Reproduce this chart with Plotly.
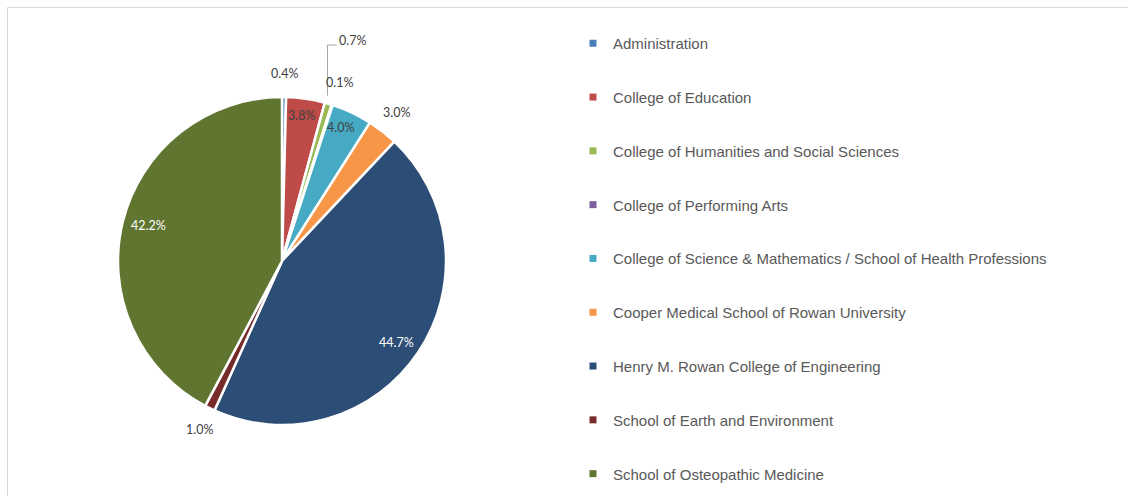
import math
import plotly.graph_objects as go

labels = [
    "Administration",
    "College of Education",
    "College of Humanities and Social Sciences",
    "College of Performing Arts",
    "College of Science & Mathematics / School of Health Professions",
    "Cooper Medical School of Rowan University",
    "Henry M. Rowan College of Engineering",
    "School of Earth and Environment",
    "School of Osteopathic Medicine",
]
values = [0.4, 3.8, 0.7, 0.1, 4.0, 3.0, 44.7, 1.0, 42.2]
colors = ["#4A7EBB", "#BE4B48", "#98B954", "#7D5FA0", "#46AAC5",
          "#F79646", "#2C4D75", "#772C2A", "#5F7530"]
# label placement style per slice: "in", "out", or "leader"
label_mode = ["out", "in", "leader", "out", "in", "out", "in", "out", "in"]
label_color = ["#404040", "#404040", "#404040", "#404040", "#404040",
               "#404040", "#FFFFFF", "#404040", "#FFFFFF"]

W, H = 1128, 496
cx, cy, r = 282, 261, 164
rx, ry = 158, 169  # label geometry (reference ellipse)

fig = go.Figure()
fig.add_trace(go.Pie(
    labels=labels, values=values, sort=False, direction="clockwise", rotation=0,
    marker=dict(colors=colors, line=dict(color="white", width=2.5)),
    textinfo="none", showlegend=False, hoverinfo="label+value",
    domain=dict(x=[(cx - r) / W, (cx + r) / W], y=[1 - (cy + r) / H, 1 - (cy - r) / H]),
))

for lab, col in zip(labels, colors):
    fig.add_trace(go.Scatter(
        x=[None], y=[None], mode="markers", name=lab, legendgroup=lab,
        marker=dict(symbol="square", size=7, color=col),
    ))

total = sum(values)
font_lbl = "Lato, Carlito, Calibri, sans-serif"
annotations = []
shapes = [dict(type="rect", xref="paper", yref="paper",
               x0=7.5 / W, x1=1.02, y0=-0.02, y1=1 - 7.5 / H,
               line=dict(color="#D9D9D9", width=1))]
cum = 0.0
for v, mode, tc in zip(values, label_mode, label_color):
    mid = (cum + v / 2) / total * 2 * math.pi
    cum += v
    s, c = math.sin(mid), math.cos(mid)
    txt = f"{v:.1f}%"
    if mode == "in":
        k = 0.87
        px, py = cx + k * rx * s, cy - k * ry * c
        annotations.append(dict(x=px / W, y=1 - py / H, xref="paper", yref="paper",
                                text=txt, showarrow=False, xanchor="center", yanchor="middle",
                                font=dict(family=font_lbl, size=12.5, color=tc)))
    elif mode == "out":
        k = 1.07
        px, py = cx + k * rx * s, cy - k * ry * c
        w, h = 9.0 * len(txt), 14
        px += w / 2 * s
        py -= h / 2 * c
        annotations.append(dict(x=px / W, y=1 - py / H, xref="paper", yref="paper",
                                text=txt, showarrow=False, xanchor="center", yanchor="middle",
                                font=dict(family=font_lbl, size=12.5, color=tc)))
    else:
        ex, ey = cx + 1.02 * rx * s, cy - 1.02 * ry * c
        top_y, run = 45, 9
        shapes.append(dict(type="path", xref="paper", yref="paper",
                           path=f"M {ex / W} {1 - ey / H} L {ex / W} {1 - top_y / H} "
                                f"L {(ex + run) / W} {1 - top_y / H}",
                           line=dict(color="#A6A6A6", width=1)))
        annotations.append(dict(x=(ex + run + 1) / W, y=1 - (top_y - 4) / H,
                                xref="paper", yref="paper",
                                text=txt, showarrow=False, xanchor="left", yanchor="middle",
                                font=dict(family=font_lbl, size=12.5, color=tc)))

fig.update_layout(
    width=W, height=H, margin=dict(l=0, r=0, t=0, b=0),
    paper_bgcolor="white", plot_bgcolor="white",
    xaxis=dict(visible=False), yaxis=dict(visible=False),
    legend=dict(x=573 / W, y=1 - 27 / H, xanchor="left", yanchor="top",
                font=dict(family="Liberation Sans, Arial, sans-serif", size=15, color="#595959"),
                tracegroupgap=31.3, bgcolor="rgba(0,0,0,0)"),
    shapes=shapes, annotations=annotations,
)

fig.write_html("out.html", config={"displayModeBar": False},
               post_script="document.body.style.margin='0px';")
